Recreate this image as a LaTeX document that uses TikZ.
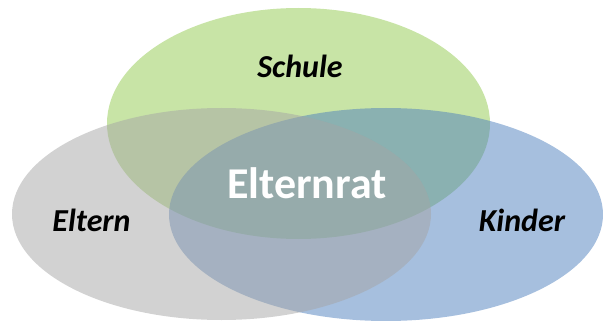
\documentclass[tikz,border=0pt]{standalone}
\usepackage{fontspec}
\setmainfont{Carlito}
\definecolor{schulegreen}{RGB}{145,201,77}
\definecolor{kinderblue}{RGB}{77,127,189}
\definecolor{elterngray}{RGB}{165,165,165}
\begin{document}
\begin{tikzpicture}[x=1pt,y=-1pt,
  blob/.style={fill opacity=0.5, draw=none},
  lbl/.style={font=\fontsize{32}{38}\selectfont\bfseries\itshape, text=black, inner sep=0pt},
  mid/.style={font=\fontsize{44}{52}\selectfont\bfseries, text=white, inner sep=0pt}]
\useasboundingbox (0,0) rectangle (603,321);
\fill[blob, schulegreen] (298.5,123.5) ellipse [x radius=191.5, y radius=115.5];
\fill[blob, kinderblue] (386,214.5) ellipse [x radius=217, y radius=106.5];
\fill[blob, elterngray] (221.5,214) ellipse [x radius=209.5, y radius=106];
\node[lbl] (schule) at (300,66.5) {Schule};
\node[lbl] (eltern) at (91.5,220) {Eltern};
\node[lbl] (kinder) at (522,220) {Kinder};
\node[mid] (elternrat) at (307,183) {Elternrat};
\end{tikzpicture}
\end{document}
